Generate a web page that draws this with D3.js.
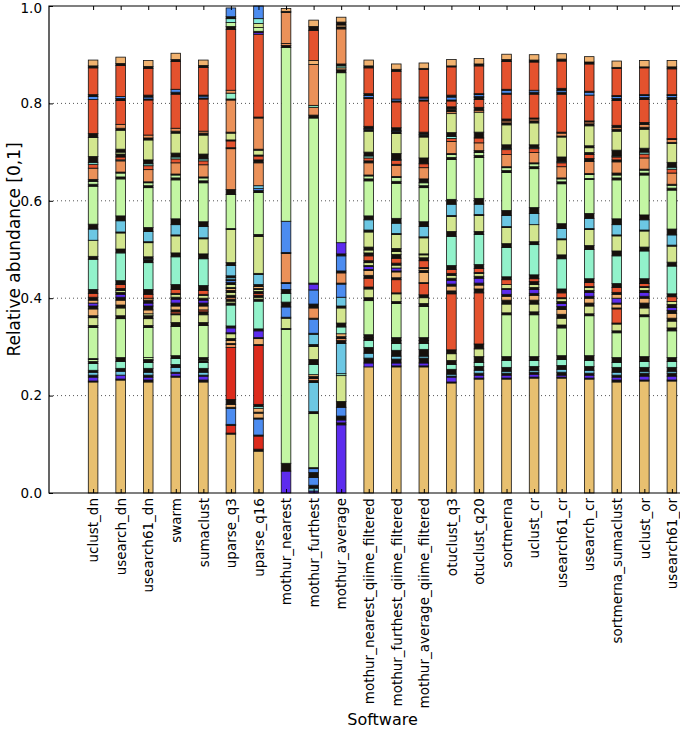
<!DOCTYPE html>
<html><head><meta charset="utf-8">
<script src="https://cdn.jsdelivr.net/npm/d3@7"></script>
<style>body{margin:0;background:#fff}svg{display:block}</style>
</head><body><svg id="c" width="680" height="737"></svg>
<script>
// Software (x categories)
const software = ["uclust_dn","usearch_dn","usearch61_dn","swarm","sumaclust","uparse_q3","uparse_q16",
  "mothur_nearest","mothur_furthest","mothur_average","mothur_nearest_qiime_filtered",
  "mothur_furthest_qiime_filtered","mothur_average_qiime_filtered","otuclust_q3","otuclust_q20",
  "sortmerna","uclust_cr","usearch61_cr","usearch_cr","sortmerna_sumaclust","uclust_or","usearch61_or"];
// taxon groups (stack segments are [taxon group, relative abundance]); X = many tiny taxa
const taxa = ["A","B","C","D","E","F","G","H","I","J","K","L","X"];
const yTicks = [0.0,0.2,0.4,0.6,0.8,1.0];

const uclust_dn = [["A",.228],["X",.002],["B",.008],["X",.004],["D",.006],["X",.004],["F",.014],["X",.004],["G",.004],["X",.002],["G",.064],["X",.004],["H",.016],["X",.004],["I",.014],["X",.006],["B",.006],["I",.006],["X",.006],["K",.008],["X",.008],["F",.062],["X",.006],["H",.033],["D",.023],["X",.010],["G",.078],["X",.004],["G",.006],["X",.004],["J",.023],["K",.008],["E",.004],["X",.012],["H",.039],["X",.008],["K",.070],["C",.006],["X",.004],["K",.055],["X",.004],["I",.012]];
const usearch_dn = [["A",.232],["X",.002],["B",.008],["D",.008],["X",.006],["F",.014],["X",.008],["G",.080],["X",.006],["H",.016],["X",.006],["I",.010],["X",.006],["B",.006],["X",.004],["H",.004],["X",.004],["K",.008],["X",.008],["F",.057],["X",.008],["H",.033],["X",.002],["D",.023],["X",.010],["G",.076],["X",.004],["G",.008],["X",.002],["J",.023],["E",.002],["K",.006],["X",.006],["H",.004],["X",.006],["H",.039],["X",.004],["J",.008],["K",.049],["X",.004],["C",.004],["K",.064],["X",.004],["I",.013]];
const usearch61_dn = [["A",.228],["X",.004],["B",.006],["X",.004],["D",.006],["X",.008],["F",.012],["X",.004],["X",.002],["G",.004],["G",.062],["X",.004],["H",.014],["X",.006],["H",.004],["I",.008],["X",.008],["B",.006],["X",.006],["I",.004],["K",.008],["X",.010],["F",.055],["X",.006],["E",.002],["X",.004],["H",.029],["X",.002],["D",.021],["X",.008],["G",.082],["X",.004],["G",.006],["X",.002],["J",.025],["K",.008],["E",.004],["X",.008],["H",.041],["X",.004],["J",.006],["K",.072],["X",.002],["C",.004],["X",.004],["K",.055],["X",.004],["I",.012]];
const swarm = [["A",.238],["X",.002],["B",.006],["X",.002],["D",.010],["X",.006],["F",.012],["X",.006],["G",.060],["X",.008],["H",.016],["X",.002],["K",.004],["X",.004],["I",.008],["X",.006],["B",.008],["X",.004],["H",.006],["X",.002],["K",.008],["X",.010],["F",.057],["X",.008],["H",.035],["X",.002],["D",.021],["X",.012],["G",.080],["X",.004],["G",.006],["X",.002],["J",.023],["K",.008],["E",.004],["X",.008],["H",.041],["X",.004],["J",.006],["K",.070],["X",.004],["C",.006],["K",.057],["X",.004],["I",.013]];
const sumaclust = [["A",.228],["X",.004],["B",.008],["X",.002],["D",.006],["X",.008],["F",.012],["X",.004],["G",.002],["X",.004],["G",.066],["X",.006],["H",.016],["X",.006],["K",.004],["I",.008],["X",.006],["B",.006],["X",.004],["H",.006],["X",.002],["K",.008],["X",.010],["F",.055],["X",.010],["H",.031],["X",.002],["D",.023],["X",.010],["G",.080],["X",.004],["G",.006],["X",.002],["J",.025],["K",.008],["E",.004],["X",.010],["H",.039],["X",.004],["J",.004],["K",.066],["X",.002],["C",.004],["X",.002],["K",.057],["X",.004],["I",.011]];
const uparse_q3 = [["A",.121],["X",.002],["L",.016],["X",.002],["C",.033],["X",.002],["I",.006],["X",.010],["L",.107],["J",.006],["X",.002],["I",.006],["X",.004],["H",.010],["X",.002],["B",.010],["X",.004],["F",.043],["X",.004],["H",.004],["X",.004],["J",.004],["X",.004],["H",.006],["X",.004],["I",.004],["X",.002],["H",.006],["X",.004],["C",.004],["X",.002],["D",.004],["X",.004],["D",.021],["X",.006],["H",.068],["X",.002],["G",.070],["X",.010],["J",.084],["X",.002],["K",.014],["X",.002],["H",.014],["X",.002],["J",.066],["X",.002],["F",.012],["J",.006],["K",.125],["X",.006],["G",.008],["E",.008],["X",.004],["C",.018]];
const uparse_q16 = [["A",.086],["X",.004],["L",.027],["X",.002],["C",.033],["X",.002],["I",.010],["X",.002],["I",.008],["E",.004],["X",.004],["L",.121],["X",.002],["I",.012],["X",.002],["B",.014],["X",.004],["F",.057],["X",.004],["H",.004],["X",.004],["K",.004],["X",.004],["H",.004],["X",.002],["I",.004],["X",.004],["D",.021],["X",.002],["H",.076],["X",.004],["G",.086],["X",.004],["C",.004],["D",.006],["J",.047],["X",.006],["K",.008],["X",.002],["H",.010],["X",.002],["J",.064],["X",.002],["K",.170],["B",.004],["X",.002],["G",.008],["H",.008],["E",.010],["C",.026]];
const mothur_nearest = [["B",.045],["X",.016],["G",.275],["X",.002],["H",.021],["X",.002],["C",.021],["X",.010],["F",.018],["X",.008],["C",.012],["X",.002],["J",.060],["X",.002],["C",.064],["G",.357],["X",.004],["J",.004],["J",.064],["X",.002],["I",.006]];
const mothur_furthest = [["B",.004],["D",.006],["X",.006],["C",.016],["X",.010],["C",.008],["X",.002],["G",.111],["X",.004],["D",.060],["X",.004],["J",.004],["X",.004],["I",.004],["F",.021],["X",.010],["H",.027],["X",.004],["D",.021],["X",.002],["C",.029],["X",.002],["J",.021],["X",.008],["C",.029],["B",.012],["X",.002],["G",.339],["X",.006],["J",.016],["F",.004],["J",.084],["I",.008],["K",.062],["X",.008],["I",.013]];
const mothur_average = [["B",.140],["X",.004],["B",.006],["X",.004],["X",.004],["C",.018],["X",.012],["H",.053],["F",.004],["D",.062],["X",.006],["J",.004],["X",.004],["I",.006],["F",.014],["X",.008],["H",.031],["X",.004],["D",.018],["C",.027],["X",.002],["J",.021],["X",.004],["C",.031],["X",.004],["B",.023],["G",.349],["X",.006],["I",.004],["F",.004],["X",.004],["J",.072],["X",.004],["I",.004],["X",.006],["I",.010]];
const mothur_nearest_qiime_filtered = [["A",.259],["B",.008],["X",.010],["D",.010],["X",.012],["F",.014],["X",.006],["X",.006],["G",.070],["X",.006],["H",.018],["X",.004],["K",.018],["X",.006],["I",.010],["X",.002],["B",.006],["X",.002],["H",.006],["X",.004],["K",.010],["X",.006],["H",.006],["X",.006],["H",.031],["X",.004],["D",.021],["X",.008],["G",.072],["X",.004],["G",.006],["X",.002],["J",.025],["X",.004],["K",.006],["E",.004],["X",.008],["H",.043],["X",.004],["C",.002],["X",.004],["K",.057],["X",.002],["C",.004],["X",.004],["K",.053],["X",.004],["I",.012]];
const mothur_furthest_qiime_filtered = [["A",.259],["X",.002],["B",.006],["X",.008],["D",.006],["X",.012],["F",.014],["X",.006],["X",.006],["G",.070],["X",.004],["H",.016],["X",.002],["K",.027],["X",.004],["I",.012],["X",.002],["B",.006],["H",.006],["X",.004],["K",.010],["X",.008],["H",.006],["X",.006],["H",.029],["X",.002],["D",.021],["X",.010],["G",.072],["X",.004],["G",.008],["X",.002],["J",.023],["X",.002],["K",.008],["E",.002],["X",.012],["H",.041],["X",.004],["C",.002],["X",.006],["K",.053],["X",.002],["C",.004],["K",.057],["X",.004],["I",.011]];
const mothur_average_qiime_filtered = [["A",.259],["X",.002],["B",.006],["X",.010],["D",.004],["X",.014],["F",.012],["X",.006],["X",.006],["G",.064],["X",.006],["H",.012],["X",.006],["K",.023],["X",.002],["I",.021],["X",.004],["I",.004],["X",.002],["K",.014],["X",.006],["H",.006],["X",.002],["H",.033],["X",.002],["D",.021],["X",.010],["G",.070],["X",.004],["G",.006],["X",.008],["J",.023],["K",.008],["X",.012],["H",.043],["X",.004],["E",.002],["X",.004],["K",.064],["X",.002],["C",.004],["X",.002],["K",.057],["X",.002],["I",.011]];
const otuclust_q3 = [["A",.226],["X",.002],["B",.010],["X",.002],["D",.004],["X",.010],["F",.010],["X",.008],["H",.014],["X",.008],["K",.115],["X",.002],["X",.004],["I",.010],["X",.004],["B",.008],["X",.004],["H",.006],["X",.004],["K",.008],["X",.008],["F",.060],["X",.010],["H",.031],["X",.002],["D",.023],["X",.010],["G",.082],["X",.004],["G",.006],["X",.002],["J",.025],["K",.006],["E",.004],["X",.008],["H",.039],["J",.004],["X",.004],["I",.002],["X",.004],["K",.012],["X",.002],["C",.006],["X",.004],["K",.058],["X",.002],["I",.013]];
const otuclust_q20 = [["A",.234],["X",.002],["B",.006],["X",.004],["D",.006],["X",.008],["F",.008],["X",.012],["H",.016],["X",.010],["K",.105],["X",.008],["I",.008],["X",.004],["B",.010],["X",.004],["H",.006],["X",.002],["K",.008],["X",.008],["F",.062],["X",.006],["H",.033],["X",.002],["D",.021],["X",.012],["G",.084],["X",.004],["G",.006],["X",.004],["J",.016],["K",.010],["X",.012],["H",.041],["J",.004],["X",.006],["K",.016],["X",.004],["X",.002],["C",.004],["X",.002],["K",.057],["X",.004],["I",.011]];
const sortmerna = [["A",.234],["X",.002],["B",.006],["X",.004],["D",.004],["X",.008],["F",.014],["X",.008],["G",.086],["X",.004],["H",.018],["X",.008],["I",.008],["X",.004],["B",.010],["X",.002],["H",.008],["K",.010],["X",.006],["F",.060],["X",.008],["H",.033],["X",.002],["D",.023],["X",.010],["G",.078],["X",.004],["G",.006],["X",.002],["J",.025],["K",.010],["E",.002],["X",.008],["H",.041],["X",.004],["J",.004],["X",.004],["K",.051],["X",.002],["C",.006],["X",.002],["K",.057],["X",.004],["I",.011]];
const uclust_cr = [["A",.236],["X",.002],["B",.006],["X",.004],["D",.004],["X",.008],["F",.012],["X",.008],["G",.086],["X",.006],["H",.016],["X",.008],["I",.010],["X",.004],["B",.008],["X",.004],["H",.006],["X",.006],["K",.006],["X",.008],["F",.062],["X",.006],["H",.035],["D",.023],["X",.012],["G",.080],["X",.004],["G",.006],["X",.002],["J",.021],["K",.008],["E",.002],["X",.006],["H",.045],["X",.004],["J",.004],["X",.002],["K",.049],["X",.004],["C",.004],["K",.058],["X",.004],["I",.011]];
const usearch61_cr = [["A",.236],["X",.002],["B",.004],["X",.006],["D",.006],["X",.008],["F",.012],["X",.008],["G",.057],["X",.006],["H",.014],["X",.008],["I",.010],["X",.006],["B",.006],["X",.004],["H",.006],["X",.002],["K",.010],["X",.008],["F",.062],["X",.008],["H",.031],["X",.002],["D",.021],["X",.010],["G",.082],["X",.004],["G",.006],["X",.002],["J",.023],["K",.008],["E",.002],["X",.010],["H",.041],["X",.002],["J",.006],["X",.002],["K",.078],["X",.004],["C",.004],["X",.004],["K",.056],["X",.004],["I",.011]];
const usearch_cr = [["A",.234],["X",.002],["B",.006],["X",.004],["D",.006],["X",.008],["F",.012],["X",.010],["G",.082],["X",.004],["H",.016],["X",.006],["I",.010],["X",.004],["B",.008],["X",.004],["H",.006],["X",.002],["K",.008],["X",.008],["F",.060],["X",.008],["H",.033],["X",.002],["D",.021],["X",.010],["G",.070],["X",.002],["G",.008],["X",.002],["J",.025],["X",.006],["K",.008],["X",.004],["H",.010],["X",.004],["H",.041],["X",.004],["J",.004],["X",.002],["K",.053],["C",.006],["X",.002],["K",.056],["X",.004],["I",.011]];
const sortmerna_sumaclust = [["A",.228],["X",.004],["B",.006],["X",.004],["D",.006],["X",.010],["F",.010],["X",.010],["G",.051],["X",.004],["H",.014],["X",.002],["K",.029],["X",.002],["I",.008],["X",.002],["B",.010],["I",.008],["X",.004],["K",.010],["X",.008],["F",.057],["X",.010],["H",.031],["X",.002],["D",.021],["X",.012],["G",.080],["X",.004],["G",.006],["X",.004],["J",.023],["X",.004],["K",.006],["E",.002],["X",.012],["H",.039],["X",.004],["J",.004],["X",.004],["K",.051],["X",.004],["C",.004],["X",.002],["K",.056],["X",.002],["I",.013]];
const uclust_or = [["A",.230],["X",.002],["B",.008],["X",.006],["D",.004],["X",.008],["F",.012],["X",.010],["G",.082],["X",.004],["H",.014],["X",.010],["I",.010],["X",.004],["B",.008],["X",.004],["H",.006],["X",.002],["K",.006],["X",.010],["F",.057],["X",.008],["H",.033],["X",.002],["D",.021],["X",.010],["G",.082],["X",.004],["G",.006],["X",.002],["J",.023],["K",.008],["E",.004],["X",.008],["H",.039],["X",.004],["J",.006],["X",.004],["K",.047],["X",.004],["C",.004],["X",.002],["K",.055],["X",.002],["I",.013]];
const usearch61_or = [["A",.230],["X",.002],["B",.008],["X",.006],["D",.004],["X",.008],["F",.012],["X",.008],["G",.055],["X",.006],["H",.014],["X",.006],["I",.010],["X",.006],["B",.006],["X",.006],["H",.006],["K",.010],["X",.006],["F",.057],["X",.008],["H",.033],["X",.002],["D",.021],["X",.012],["G",.080],["X",.004],["G",.006],["X",.002],["J",.023],["K",.008],["E",.004],["X",.010],["H",.039],["X",.002],["J",.006],["X",.002],["K",.080],["X",.004],["C",.004],["X",.002],["K",.053],["X",.004],["I",.013]];

const barSegments = [uclust_dn,usearch_dn,usearch61_dn,swarm,sumaclust,uparse_q3,uparse_q16,
  mothur_nearest,mothur_furthest,mothur_average,mothur_nearest_qiime_filtered,
  mothur_furthest_qiime_filtered,mothur_average_qiime_filtered,otuclust_q3,otuclust_q20,
  sortmerna,uclust_cr,usearch61_cr,usearch_cr,sortmerna_sumaclust,uclust_or,usearch61_or];

const palette = ["#e8c070","#5d2cee","#4c8cf0","#6cc7e3","#86ebdb","#92f2cb","#c3f6a3","#d3e68f",
  "#f1b26f","#eb9159","#e4522e","#dd2b1c","#16100c"];
const color = d3.scaleOrdinal().domain(taxa).range(palette);

const svg = d3.select("#c");
const M = {left:49, right:716, top:6, bottom:493};
const x = d3.scalePoint().domain(software).range([M.left, M.right]).padding(1.6);
const y = d3.scaleLinear().domain([0,1]).range([M.bottom, M.top]);
const barW = 9.6;

// gridlines
svg.append("g").selectAll("line").data(yTicks.filter(t=>t>0&&t<1)).join("line")
  .attr("x1",M.left).attr("x2",680).attr("y1",d=>y(d)).attr("y2",d=>y(d))
  .attr("stroke","#555").attr("stroke-width",1).attr("stroke-dasharray","1,3");

// stacked segments
const rects = [];
barSegments.forEach((segs,i)=>{
  let c = 0;
  segs.forEach(([t,v])=>{ rects.push({name:software[i],t,y0:c,y1:c+v}); c+=v; });
});
svg.append("g").selectAll("rect").data(rects).join("rect")
  .attr("x",d=>x(d.name)-barW/2).attr("width",barW)
  .attr("y",d=>y(d.y1)).attr("height",d=>y(d.y0)-y(d.y1))
  .attr("fill",d=>color(d.t)).attr("stroke","#111").attr("stroke-width",0.8);

// frame
svg.append("path").attr("d",`M${M.right},${M.top}H${M.left}V${M.bottom}H${M.right}`)
  .attr("fill","none").attr("stroke","#000").attr("stroke-width",1.2);

// y axis
const yAxis = d3.axisLeft(y).tickValues(yTicks).tickFormat(d3.format(".1f")).tickSize(-4).tickPadding(7);
const gy = svg.append("g").attr("transform",`translate(${M.left},0)`).call(yAxis);
gy.select(".domain").remove();
gy.selectAll("text").attr("font-family","DejaVu Sans").attr("font-size",13.5).attr("fill","#000");
gy.selectAll(".tick").filter(d=>d===1).select("text").attr("dy","0.45em");
gy.selectAll("line").attr("stroke","#000");

// x axis bottom
const xAxis = d3.axisBottom(x).tickSize(-4).tickPadding(6);
const gx = svg.append("g").attr("transform",`translate(0,${M.bottom})`).call(xAxis);
gx.select(".domain").remove();
gx.selectAll("line").attr("stroke","#000");
gx.selectAll("text").attr("font-family","DejaVu Sans").attr("font-size",13.5).attr("fill","#000")
  .attr("text-anchor","end").attr("dx","-0.3em").attr("dy","0.35em")
  .attr("x",0).attr("y",0)
  .attr("transform","translate(0,1) rotate(-90)");
// x ticks top
const gxt = svg.append("g").attr("transform",`translate(0,${M.top})`).call(d3.axisTop(x).tickSize(-4).tickFormat(""));
gxt.select(".domain").remove();
gxt.selectAll("line").attr("stroke","#000");

// axis labels
svg.append("text").attr("x",(M.left+M.right)/2).attr("y",725).attr("text-anchor","middle")
  .attr("font-family","DejaVu Sans").attr("font-size",16).text("Software");
svg.append("text").attr("transform",`translate(20,${(M.top+M.bottom)/2}) rotate(-90)`).attr("text-anchor","middle")
  .attr("font-family","DejaVu Sans").attr("font-size",17).text("Relative abundance [0,1]");
</script></body></html>
